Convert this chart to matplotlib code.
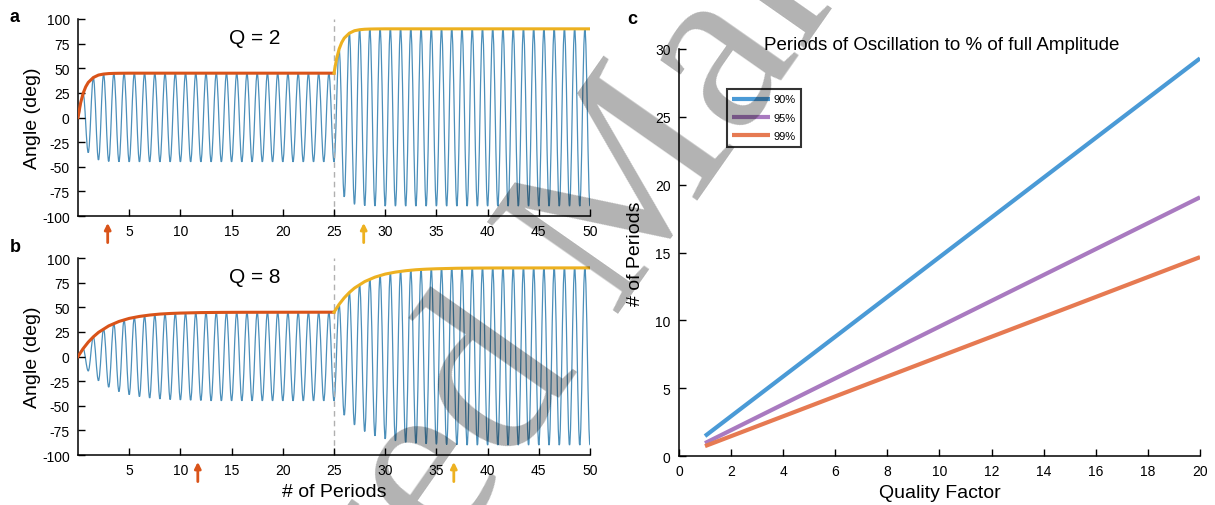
import numpy as np
import matplotlib
matplotlib.use("Agg")
import matplotlib.pyplot as plt
from matplotlib.path import Path
from matplotlib.patches import PathPatch

plt.rcParams["font.family"] = ["Liberation Sans", "DejaVu Sans"]
plt.rcParams["axes.unicode_minus"] = False

# --------------------------------------------------
# Data
# --------------------------------------------------

# oscillation amplitude at every half period (Q = 2), before / after the step at 25
a_amp_rise1 = [0, 24.5, 35.6, 40.6, 43.1, 44.1, 44.6, 44.8, 44.9, 45.0]
a_amp_rise2 = [45.0, 69.5, 80.6, 85.6, 88.1, 89.1, 89.6, 89.8, 89.9, 90.0]

# same for Q = 8
b_amp_rise1 = [0, 8.0, 14.6, 20.0, 24.5, 28.1, 31.1, 33.6, 35.6, 37.3, 38.7, 39.8,
               40.7, 41.5, 42.1, 42.6, 43.1, 43.4, 43.7, 43.9, 44.1, 44.3, 44.4,
               44.5, 44.6]
b_amp_rise2 = [45.0, 53.0, 59.6, 65.0, 69.5, 73.1, 76.1, 78.6, 80.6, 82.3, 83.7, 84.8,
               85.7, 86.5, 87.1, 87.6, 88.1, 88.4, 88.7, 88.9, 89.1, 89.3, 89.4,
               89.5, 89.6]

steady1 = 45.0
steady2 = 90.0
step_at = 25.0
t_end = 50.0

# envelope curves (red before the step, yellow after)
a_env1_t = [0, 0.25, 0.5, 0.75, 1, 1.5, 2, 2.5, 3, 3.5, 4, 5, 25]
a_env1 = [0, 14.6, 24.5, 31.1, 35.6, 40.6, 43.1, 44.1, 44.6, 44.8, 44.9, 45, 45]
a_env2_t = [25, 25.25, 25.5, 25.75, 26, 26.5, 27, 27.5, 28, 28.5, 29, 30, 50]
a_env2 = [45, 59.6, 69.5, 76.1, 80.6, 85.6, 88.1, 89.1, 89.6, 89.8, 89.9, 90, 90]

b_env1_t = [0, 0.5, 1, 1.5, 2, 3, 4, 5, 6, 7, 8, 9, 10, 12, 14, 16, 25]
b_env1 = [0, 8.0, 14.6, 20.0, 24.5, 31.1, 35.6, 38.7, 40.7, 42.1, 43.1, 43.7, 44.1,
          44.6, 44.8, 44.9, 45]
b_env2_t = [25, 25.5, 26, 26.5, 27, 28, 29, 30, 31, 32, 33, 34, 35, 37, 39, 41, 50]
b_env2 = [45, 53.0, 59.6, 65.0, 69.5, 76.1, 80.6, 83.7, 85.7, 87.1, 88.1, 88.7, 89.1,
          89.6, 89.8, 89.9, 90]

# 99% arrows (periods)
a_arrows = [2.9, 27.9]
b_arrows = [11.7, 36.7]

# panel c
quality = [1, 5, 10, 15, 20]
periods_90 = [1.47, 7.33, 14.66, 21.99, 29.31]
periods_95 = [0.95, 4.77, 9.54, 14.30, 19.07]
periods_99 = [0.73, 3.66, 7.33, 10.99, 14.66]
legend_labels = ["90%", "95%", "99%"]

BLUE_SIG = "#4b8fba"
RED = "#d95319"
YELLOW = "#edb120"
C_COLORS = ["#4a9ad6", "#a97ac0", "#e67a52"]


def build_amplitudes(rise1, rise2):
    n1 = int(step_at * 2)
    n2 = int((t_end - step_at) * 2)
    amp1 = list(rise1) + [steady1] * (n1 - len(rise1))
    amp2 = list(rise2) + [steady2] * (n2 + 1 - len(rise2))
    return np.array(amp1 + amp2)


def signal_path(amp):
    # extremes sit on half periods: troughs on whole periods, peaks in between
    t = np.arange(len(amp)) * 0.5
    y = np.where(np.arange(len(amp)) % 2 == 0, -amp, amp)
    h = 0.5
    c = 1 - 2 / np.pi
    verts = [(t[0], y[0])]
    codes = [Path.MOVETO]
    for i in range(len(t) - 1):
        verts += [(t[i] + c * h, y[i]), (t[i + 1] - c * h, y[i + 1]), (t[i + 1], y[i + 1])]
        codes += [Path.CURVE4] * 3
    return Path(verts, codes)


def osc_panel(ax, amp, env1_t, env1, env2_t, env2, arrows, qtext):
    ax.add_patch(PathPatch(signal_path(amp), fill=False, edgecolor=BLUE_SIG, lw=0.9))
    ax.axvline(step_at, color="#b0b0b0", ls=(0, (4, 3)), lw=1, zorder=1)
    ax.plot(env1_t, env1, color=RED, lw=2.2, zorder=4)
    ax.plot(env2_t, env2, color=YELLOW, lw=2.2, zorder=4)
    ax.set_xlim(0, 50)
    ax.set_ylim(-100, 100)
    ax.set_xticks(np.arange(5, 51, 5))
    ax.set_yticks(np.arange(-100, 101, 25))
    ax.spines[["top", "right"]].set_visible(False)
    for s in ax.spines.values():
        s.set_linewidth(1.1)
    ax.tick_params(direction="in", length=5, width=1, labelsize=10, pad=6)
    ax.set_ylabel("Angle (deg)", fontsize=14, labelpad=1)
    ax.text(17.3, 81, qtext, fontsize=15, ha="center", va="center")
    for x, col in zip(arrows, [RED, YELLOW]):
        ax.annotate("", xy=(x, -0.035), xytext=(x, -0.135),
                    xycoords=("data", "axes fraction"),
                    textcoords=("data", "axes fraction"),
                    arrowprops=dict(arrowstyle="-|>", color=col, lw=2,
                                    mutation_scale=9, shrinkA=0, shrinkB=0),
                    annotation_clip=False)


fig = plt.figure(figsize=(12.15, 5.06), dpi=100)

ax_a = fig.add_axes([0.0642, 0.5711, 0.4214, 0.3894])
ax_b = fig.add_axes([0.0642, 0.0988, 0.4214, 0.3893])
ax_c = fig.add_axes([0.5588, 0.0968, 0.4289, 0.8044])

osc_panel(ax_a, build_amplitudes(a_amp_rise1, a_amp_rise2),
          a_env1_t, a_env1, a_env2_t, a_env2, a_arrows, "Q = 2")
osc_panel(ax_b, build_amplitudes(b_amp_rise1, b_amp_rise2),
          b_env1_t, b_env1, b_env2_t, b_env2, b_arrows, "Q = 8")
ax_b.set_xlabel("# of Periods", fontsize=14, labelpad=4)

# --------------------------------------------------
# Panel c
# --------------------------------------------------

for vals, col, lab in zip([periods_90, periods_95, periods_99], C_COLORS, legend_labels):
    ax_c.plot(quality, vals, color=col, lw=3, label=lab, solid_capstyle="butt")
ax_c.set_xlim(0, 20)
ax_c.set_ylim(0, 30)
ax_c.set_xticks(np.arange(0, 21, 2))
ax_c.set_yticks(np.arange(0, 31, 5))
ax_c.spines[["top", "right"]].set_visible(False)
for s in ax_c.spines.values():
    s.set_linewidth(1.1)
ax_c.tick_params(direction="in", length=5, width=1, labelsize=10, pad=6)
ax_c.set_xlabel("Quality Factor", fontsize=14, labelpad=4)
ax_c.set_ylabel("# of Periods", fontsize=14, labelpad=8)
ax_c.text(0.505, 1.0, "Periods of Oscillation to % of full Amplitude",
          transform=ax_c.transAxes, fontsize=13.5, ha="center", va="baseline")
leg = ax_c.legend(loc="upper left", bbox_to_anchor=(0.092, 0.902), borderaxespad=0,
                  fontsize=8, handlelength=3.4, handletextpad=0.3, labelspacing=0.75,
                  borderpad=0.5, fancybox=False, framealpha=1)
leg.get_frame().set_edgecolor("#333333")
leg.get_frame().set_linewidth(1.5)

# panel letters
fig.text(10 / 1215, 1 - 18 / 506, "a", fontsize=13, fontweight="bold", va="center")
fig.text(10 / 1215, 1 - 247 / 506, "b", fontsize=13, fontweight="bold", va="center")
fig.text(627 / 1215, 1 - 20 / 506, "c", fontsize=13, fontweight="bold", va="center")

# watermark
fig.text(604 / 1215, 1 - 232 / 506, "Accepted Manuscript", rotation=55,
         rotation_mode="anchor", fontsize=176, family="Liberation Serif",
         color="black", alpha=0.3, ha="center", va="center", zorder=10)

fig.savefig("out.png", dpi=100)
